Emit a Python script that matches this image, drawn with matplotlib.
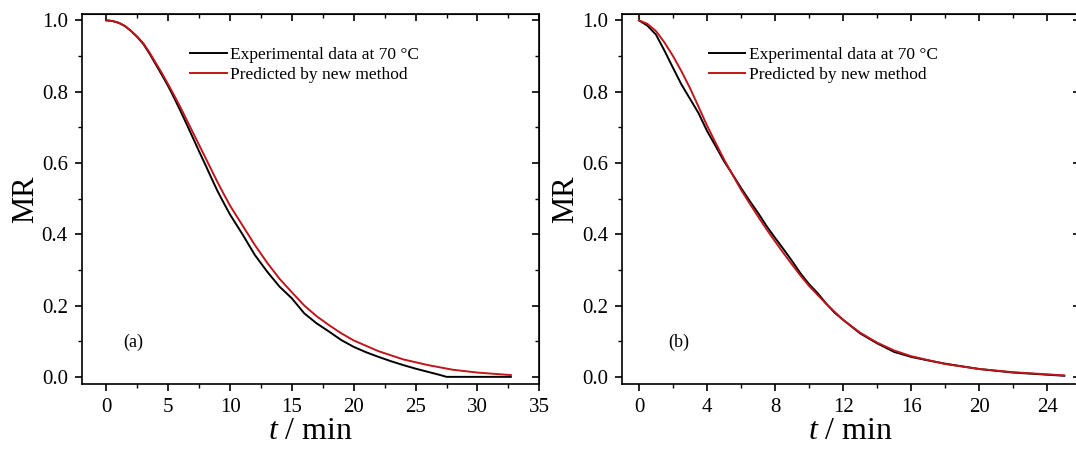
import matplotlib.pyplot as plt
from matplotlib.ticker import MultipleLocator

plt.rcParams['font.family'] = ['Liberation Serif', 'DejaVu Serif']
plt.rcParams['mathtext.fontset'] = 'custom'
plt.rcParams['mathtext.it'] = 'Liberation Serif:italic'
plt.rcParams['mathtext.rm'] = 'Liberation Serif'

# (a) 실험값 / 예측값
t_a_exp = [0, 0.5, 1, 1.5, 2, 2.5, 3, 3.5, 4, 4.5, 5, 5.5, 6, 6.5, 7, 7.5, 8, 8.5, 9, 9.5, 10,
           11, 12, 13, 14, 15, 16, 17, 18, 19, 20, 21, 22, 23, 24, 25, 26, 27, 27.5, 30, 32.7]
mr_a_exp = [1.0, 0.998, 0.993, 0.984, 0.97, 0.953, 0.933, 0.906, 0.876, 0.846, 0.815, 0.781, 0.745,
            0.708, 0.67, 0.632, 0.595, 0.557, 0.52, 0.487, 0.455, 0.40, 0.342, 0.295, 0.253, 0.22,
            0.178, 0.15, 0.127, 0.103, 0.084, 0.069, 0.056, 0.044, 0.033, 0.023, 0.014, 0.005,
            0.0, 0.0, 0.0]
t_a_pred = [0, 0.5, 1, 1.5, 2, 2.5, 3, 3.5, 4, 4.5, 5, 5.5, 6, 6.5, 7, 7.5, 8, 8.5, 9, 9.5, 10,
            11, 12, 13, 14, 15, 16, 17, 18, 19, 20, 22, 24, 26, 28, 30, 32.7]
mr_a_pred = [1.0, 0.998, 0.993, 0.984, 0.97, 0.954, 0.935, 0.909, 0.88, 0.851, 0.82, 0.788, 0.755,
             0.72, 0.685, 0.65, 0.615, 0.58, 0.545, 0.512, 0.48, 0.425, 0.37, 0.32, 0.275, 0.237,
             0.2, 0.17, 0.145, 0.122, 0.102, 0.072, 0.049, 0.033, 0.02, 0.012, 0.005]

# (b) 실험값 / 예측값
t_b_exp = [0, 0.5, 1, 1.5, 2, 2.5, 3, 3.5, 4, 4.5, 5, 5.5, 6, 6.5, 7, 7.5, 8, 8.5, 9, 9.5, 10,
           10.5, 11, 11.5, 12, 13, 14, 15, 16, 17, 18, 20, 22, 24, 25]
mr_b_exp = [1.0, 0.985, 0.96, 0.915, 0.867, 0.82, 0.78, 0.74, 0.69, 0.648, 0.605, 0.568, 0.53,
            0.494, 0.46, 0.423, 0.39, 0.358, 0.325, 0.29, 0.26, 0.235, 0.206, 0.18, 0.16, 0.122,
            0.094, 0.07, 0.056, 0.046, 0.037, 0.022, 0.012, 0.006, 0.003]
t_b_pred = [0, 0.5, 1, 1.5, 2, 2.5, 3, 3.5, 4, 4.5, 5, 5.5, 6, 6.5, 7, 7.5, 8, 8.5, 9, 9.5, 10,
            11, 12, 13, 14, 15, 16, 18, 20, 22, 24, 25]
mr_b_pred = [1.0, 0.99, 0.97, 0.938, 0.9, 0.857, 0.81, 0.758, 0.705, 0.657, 0.61, 0.567, 0.525,
             0.487, 0.45, 0.414, 0.38, 0.347, 0.315, 0.284, 0.255, 0.205, 0.16, 0.124, 0.096,
             0.074, 0.058, 0.036, 0.022, 0.013, 0.007, 0.004]

RED = '#c0161b'


def 패널(ax, t_exp, y_exp, t_pred, y_pred, xlim, xmaj, xmin, tag, leg_x, tag_x):
    ax.plot(t_exp, y_exp, color='black', lw=1.4, label='Experimental data at 70 °C')
    ax.plot(t_pred, y_pred, color=RED, lw=1.4, label='Predicted by new method')
    ax.set_xlim(*xlim)
    ax.set_ylim(-0.02, 1.017)
    ax.xaxis.set_major_locator(MultipleLocator(xmaj))
    ax.xaxis.set_minor_locator(MultipleLocator(xmin))
    ax.yaxis.set_major_locator(MultipleLocator(0.2))
    ax.yaxis.set_minor_locator(MultipleLocator(0.1))
    ax.yaxis.set_major_formatter(plt.FormatStrFormatter('%.1f'))
    ax.tick_params(which='major', direction='out', length=5, width=1.2, labelsize=15, pad=5)
    ax.tick_params(which='minor', direction='out', length=3, width=1.0)
    for s in ax.spines.values():
        s.set_linewidth(1.2)

    # 위/오른쪽 눈금 (안쪽)
    top = ax.secondary_xaxis('top')
    top.xaxis.set_major_locator(MultipleLocator(xmaj))
    top.xaxis.set_minor_locator(MultipleLocator(xmin))
    top.tick_params(which='major', direction='in', length=5, width=1.2, labeltop=False)
    top.tick_params(which='minor', direction='in', length=3, width=1.0)
    right = ax.secondary_yaxis('right')
    right.yaxis.set_major_locator(MultipleLocator(0.2))
    right.yaxis.set_minor_locator(MultipleLocator(0.1))
    right.tick_params(which='major', direction='in', length=5, width=1.2, labelright=False)
    right.tick_params(which='minor', direction='in', length=3, width=1.0)

    ax.set_ylabel('MR', fontsize=22, labelpad=1)
    ax.set_xlabel('$t$ / min', fontsize=23, labelpad=0)
    ax.legend(loc='upper left', bbox_to_anchor=(leg_x, 0.935), frameon=False, fontsize=12.5,
              handlelength=2.1, handletextpad=0.2, labelspacing=0.2, borderpad=0)
    ax.text(tag_x, 0.085, tag, fontsize=13)


fig = plt.figure(figsize=(10.76, 4.49), dpi=100)
ax1 = fig.add_axes([0.0759, 0.1448, 0.4253, 0.8234])
ax2 = fig.add_axes([0.578, 0.1448, 0.4253, 0.8234])

패널(ax1, t_a_exp, mr_a_exp, t_a_pred, mr_a_pred, (-2, 35), 5, 2.5, '(a)', 0.218, 1.4)
패널(ax2, t_b_exp, mr_b_exp, t_b_pred, mr_b_pred, (-1, 25.9), 4, 2, '(b)', 0.171, 1.7)

fig.savefig('out.png', dpi=100)
